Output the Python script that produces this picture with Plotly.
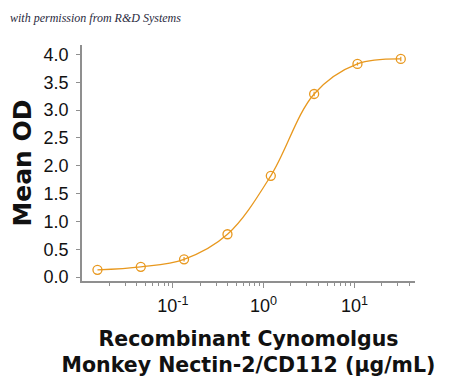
import plotly.graph_objects as go

# Data
conc = [0.0148, 0.0444, 0.133, 0.4, 1.2, 3.6, 10.8, 32.4]
mean_od = [0.13, 0.185, 0.32, 0.77, 1.82, 3.29, 3.83, 3.92]
err = [0.0, 0.0, 0.04, 0.0, 0.0, 0.04, 0.03, 0.04]

x_tickvals = [0.1, 1, 10]
x_ticktext = ["10<sup>-1</sup>", "10<sup>0</sup>", "10<sup>1</sup>"]
x_minor_tickvals = [0.02, 0.03, 0.04, 0.05, 0.06, 0.07, 0.08, 0.09,
                    0.2, 0.3, 0.4, 0.5, 0.6, 0.7, 0.8, 0.9,
                    2, 3, 4, 5, 6, 7, 8, 9,
                    20, 30, 40]
y_tickvals = [0.0, 0.5, 1.0, 1.5, 2.0, 2.5, 3.0, 3.5, 4.0]
y_ticktext = ["0.0", "0.5", "1.0", "1.5", "2.0", "2.5", "3.0", "3.5", "4.0"]

orange = "#E8981E"
axis_col = "#8f8f8f"
font_family = "Liberation Sans, Arial, sans-serif"
title_family = "DejaVu Sans, Liberation Sans, sans-serif"

fig = go.Figure()
fig.add_trace(go.Scatter(
    x=conc, y=mean_od,
    mode="lines+markers",
    line=dict(color=orange, width=1.3, shape="spline", smoothing=1.0),
    marker=dict(symbol="circle-open", size=9, color=orange, line=dict(width=1.3, color=orange)),
    error_y=dict(type="data", array=err, visible=True, color=orange, thickness=1.2, width=0),
    showlegend=False,
))

# margins compensate for the page's default 8px body margin
fig.update_layout(
    width=450, height=390,
    margin=dict(l=74, r=43, t=37, b=117),
    paper_bgcolor="white", plot_bgcolor="white",
    font=dict(family=font_family, color="#111111"),
    xaxis=dict(
        type="log", range=[-2, 1.667], automargin=False,
        tickmode="array", tickvals=x_tickvals, ticktext=x_ticktext,
        ticks="outside", ticklen=5, tickwidth=1, tickcolor=axis_col,
        minor=dict(tickmode="array", tickvals=x_minor_tickvals, ticks="outside",
                   ticklen=3, tickwidth=1, tickcolor=axis_col, showgrid=False),
        showline=True, linecolor=axis_col, linewidth=1.5,
        showgrid=False, zeroline=False,
        tickfont=dict(size=18, color="#111111"),
        ticklabelstandoff=3,
        title=dict(text="<b>Recombinant Cynomolgus<br>Monkey Nectin-2/CD112 (μg/mL)</b>",
                   font=dict(family=title_family, size=20.5, color="#111111"), standoff=16),
    ),
    yaxis=dict(
        range=[-0.07, 4.17], automargin=False,
        tickmode="array", tickvals=y_tickvals, ticktext=y_ticktext,
        ticks="outside", ticklen=4, tickwidth=1, tickcolor=axis_col,
        showline=True, linecolor=axis_col, linewidth=1.5,
        showgrid=False, zeroline=False,
        tickfont=dict(size=18, color="#111111"),
        ticklabelstandoff=4,
        title=dict(text="<b>Mean OD</b>", font=dict(family=title_family, size=25, color="#111111"), standoff=12),
    ),
)

fig.add_annotation(
    text="<i>with permission from R&amp;D Systems</i>",
    xref="paper", yref="paper", x=-0.222, y=1.115,
    xanchor="left", yanchor="middle", showarrow=False,
    font=dict(family="Liberation Serif, DejaVu Serif, serif", size=12, color="#2a2a40"),
)

fig.write_html("out.html")
